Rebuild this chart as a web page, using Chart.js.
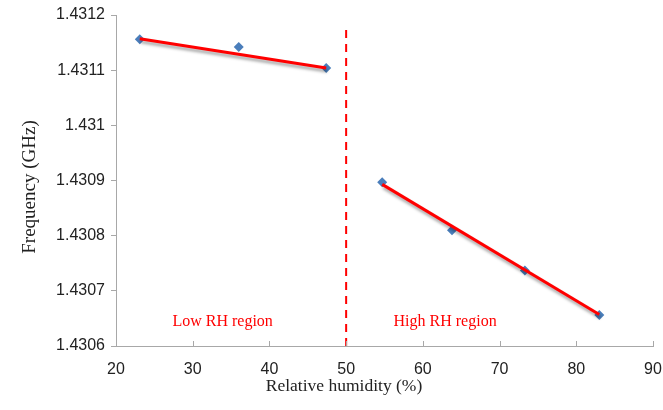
<!DOCTYPE html>
<html><head><meta charset="utf-8">
<script src="https://cdn.jsdelivr.net/npm/chart.js@4"></script>
<style>html,body{margin:0;padding:0;background:#fff}#wrap{width:663px;height:410px}</style>
</head><body><div id="wrap"><canvas id="c" width="663" height="410"></canvas></div>
<script>
// Measured points
const humidity = [23.1, 36.0, 47.4, 54.7, 63.8, 73.3, 83.0];
const frequency = [1.431156, 1.431142, 1.431104, 1.430897, 1.430810, 1.430737, 1.430656];
// Linear fit segments
const lowFitX = [23.1, 47.4];
const lowFitY = [1.431157, 1.431104];
const highFitX = [54.7, 83.0];
const highFitY = [1.430893, 1.430657];
// Region boundary
const boundaryX = 50;
const boundaryY = [1.4306, 1.43118];
// Region labels
const regionLabels = ['Low RH region', 'High RH region'];
const regionLabelX = [33.9, 62.9];
const regionLabelY = 1.430643;
const xTicks = [20, 30, 40, 50, 60, 70, 80, 90];
const yTicks = [1.4306, 1.4307, 1.4308, 1.4309, 1.431, 1.4311, 1.4312];
const xTitle = 'Relative humidity (%)';
const yTitle = 'Frequency (GHz)';

const pts = humidity.map((x, i) => ({x, y: frequency[i]}));
const zip = (xs, ys) => xs.map((x, i) => ({x, y: ys[i]}));

const shadowPlugin = {
  id: 'shadow',
  beforeDatasetDraw(chart, args) {
    const ds = chart.data.datasets[args.index];
    if (ds.shadow) {
      const ctx = chart.ctx;
      ctx.save();
      ctx.shadowColor = 'rgba(0,0,0,0.35)';
      ctx.shadowBlur = 3;
      ctx.shadowOffsetX = 1;
      ctx.shadowOffsetY = 3;
    }
  },
  afterDatasetDraw(chart, args) {
    const ds = chart.data.datasets[args.index];
    if (ds.shadow) chart.ctx.restore();
  }
};
const labelPlugin = {
  id: 'regionLabels',
  afterDatasetsDraw(chart) {
    const ctx = chart.ctx, xs = chart.scales.x, ys = chart.scales.y;
    ctx.save();
    // inward x ticks
    ctx.strokeStyle = '#a8a8a8';
    ctx.lineWidth = 1;
    xTicks.forEach(v => {
      const px = Math.round(xs.getPixelForValue(v)) + 0.5;
      ctx.beginPath();
      ctx.moveTo(px, ys.bottom);
      ctx.lineTo(px, ys.bottom - 5);
      ctx.stroke();
    });
    ctx.fillStyle = '#ff0000';
    ctx.font = '16px "Liberation Serif"';
    ctx.textAlign = 'center';
    ctx.textBaseline = 'middle';
    regionLabels.forEach((t, i) => ctx.fillText(t, xs.getPixelForValue(regionLabelX[i]), ys.getPixelForValue(regionLabelY)));
    // axis titles
    ctx.fillStyle = '#222';
    ctx.font = '17.5px "Liberation Serif"';
    ctx.fillText(xTitle, 344, 386);
    ctx.translate(30, 187);
    ctx.rotate(-Math.PI / 2);
    ctx.font = '19px "Liberation Serif"';
    ctx.fillText(yTitle, 0, 0);
    ctx.restore();
  }
};

new Chart(document.getElementById('c'), {
  type: 'scatter',
  data: {
    datasets: [
      {data: zip(lowFitX, lowFitY), showLine: true, borderColor: '#ff0000', borderWidth: 3, pointRadius: 0, shadow: true, order: 1},
      {data: zip(highFitX, highFitY), showLine: true, borderColor: '#ff0000', borderWidth: 3, pointRadius: 0, shadow: true, order: 1},
      {data: zip([boundaryX, boundaryX], boundaryY), showLine: true, borderColor: '#ff0000', borderWidth: 2, borderDash: [8, 6], pointRadius: 0, order: 2},
      {data: pts, pointStyle: 'rectRot', pointRadius: 5, backgroundColor: '#4a7ebb', borderColor: '#4a7ebb', borderWidth: 0, order: 3}
    ]
  },
  options: {
    responsive: false, animation: false,
    layout: {padding: {top: 15, right: 10, left: 0, bottom: 0}},
    plugins: {legend: {display: false}, tooltip: {enabled: false}},
    scales: {
      x: {
        type: 'linear', min: 20, max: 90,
        afterBuildTicks: s => { s.ticks = xTicks.map(v => ({value: v})); },
        afterFit: s => { s.height = 64; s.paddingLeft = 0; s.paddingRight = 0; },
        border: {color: '#a8a8a8', width: 1},
        grid: {drawOnChartArea: false, drawTicks: false, color: '#a8a8a8'},
        ticks: {color: '#222', font: {family: '"Liberation Sans"', size: 16}, padding: 14, maxRotation: 0}
      },
      y: {
        type: 'linear', min: 1.4306, max: 1.4312,
        afterBuildTicks: s => { s.ticks = yTicks.map(v => ({value: v})); },
        afterFit: s => { s.width = 116; s.paddingTop = 0; s.paddingBottom = 0; },
        border: {color: '#a8a8a8', width: 1},
        grid: {drawOnChartArea: false, tickLength: 5, color: '#a8a8a8'},
        ticks: {color: '#222', font: {family: '"Liberation Sans"', size: 16}, padding: 6, callback: v => String(+v.toFixed(4))}
      }
    }
  },
  plugins: [shadowPlugin, labelPlugin]
});
</script></body></html>
